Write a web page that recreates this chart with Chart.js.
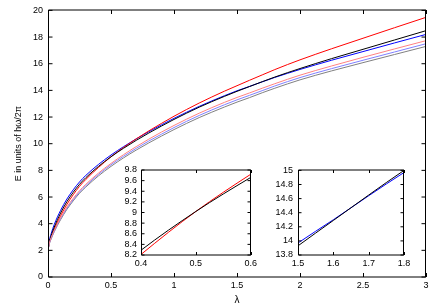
<!DOCTYPE html>
<html><head><meta charset="utf-8">
<script src="https://cdn.jsdelivr.net/npm/chart.js@4"></script>
<style>
html,body{margin:0;padding:0;background:#fff;}
#wrap{position:relative;width:436px;height:305px;background:#fff;}
canvas{position:absolute;}
</style></head><body>
<div id="wrap">
<canvas id="main" width="436" height="305" style="left:0;top:0;width:436px;height:305px"></canvas>
<canvas id="in1" width="160" height="112" style="left:100px;top:160px;width:160px;height:112px"></canvas>
<canvas id="in2" width="165" height="112" style="left:255px;top:160px;width:165px;height:112px"></canvas>
</div>
<script>
const lambda = [0, 0.01, 0.025, 0.05, 0.1, 0.15, 0.2, 0.25, 0.3, 0.4, 0.5, 0.6, 0.7, 0.8, 0.9, 1.0, 1.2, 1.4, 1.5, 1.6, 1.7, 1.8, 2.0, 2.25, 2.5, 2.75, 3.0];
const seriesBlack = [2.0, 2.6, 3.1, 3.75, 4.8, 5.65, 6.35, 6.95, 7.45, 8.29, 9.02, 9.66, 10.25, 10.8, 11.32, 11.82, 12.74, 13.55, 13.93, 14.29, 14.65, 15.0, 15.64, 16.38, 17.08, 17.78, 18.48];
const seriesRed = [2.0, 2.55, 3.0, 3.6, 4.6, 5.45, 6.17, 6.8, 7.32, 8.21, 9.02, 9.72, 10.36, 10.96, 11.52, 12.06, 13.05, 13.94, 14.35, 14.76, 15.16, 15.56, 16.29, 17.12, 17.91, 18.7, 19.48];
const seriesBlue = [2.0, 2.7, 3.25, 3.95, 5.0, 5.85, 6.54, 7.13, 7.62, 8.44, 9.15, 9.78, 10.36, 10.9, 11.41, 11.9, 12.8, 13.6, 13.97, 14.3, 14.64, 14.97, 15.57, 16.26, 16.91, 17.56, 18.2];
const seriesPink = [2.0, 2.5, 2.95, 3.5, 4.45, 5.25, 5.9, 6.47, 6.95, 7.79, 8.52, 9.18, 9.78, 10.34, 10.87, 11.37, 12.29, 13.1, 13.47, 13.81, 14.16, 14.5, 15.14, 15.83, 16.48, 17.11, 17.73];
const seriesLightBlue = [2.0, 2.48, 2.9, 3.45, 4.38, 5.15, 5.8, 6.37, 6.85, 7.69, 8.42, 9.06, 9.65, 10.2, 10.71, 11.21, 12.12, 12.92, 13.29, 13.63, 13.98, 14.33, 14.96, 15.63, 16.26, 16.88, 17.5];
const seriesGray = [2.0, 2.46, 2.85, 3.4, 4.3, 5.07, 5.71, 6.28, 6.75, 7.58, 8.3, 8.94, 9.52, 10.06, 10.57, 11.06, 11.96, 12.75, 13.12, 13.46, 13.82, 14.16, 14.79, 15.46, 16.08, 16.69, 17.3];

const mainXTicks = [0, 0.5, 1, 1.5, 2, 2.5, 3];
const mainYTicks = [0, 2, 4, 6, 8, 10, 12, 14, 16, 18, 20];
const inset1XTicks = [0.4, 0.5, 0.6];
const inset1YTicks = [8.2, 8.4, 8.6, 8.8, 9, 9.2, 9.4, 9.6, 9.8];
const inset2XTicks = [1.5, 1.6, 1.7, 1.8];
const inset2YTicks = [13.8, 14, 14.2, 14.4, 14.6, 14.8, 15];

const xTitle = 'λ';
const yTitle = 'E in units of hω/2π';

Chart.defaults.font.family = "'Liberation Sans', Arial, sans-serif";
Chart.defaults.font.size = 9;
Chart.defaults.color = '#000';

function pts(vals){ return lambda.map((l,i)=>({x:l, y:vals[i]})); }
function ds(vals, color){
  return {data: pts(vals), borderColor: color, borderWidth: 1, pointRadius: 0, fill: false, cubicInterpolationMode: 'monotone'};
}

function framePlugin(tickLen, xt, yt){
  return {
    id: 'frame',
    afterDatasetsDraw(chart){
      const {ctx, chartArea: a, scales: {x, y}} = chart;
      ctx.save();
      ctx.strokeStyle = '#000';
      ctx.lineWidth = 1;
      ctx.beginPath();
      const L = Math.round(a.left) + 0.5, R = Math.round(a.right) - 0.5;
      const T = Math.round(a.top), B = Math.round(a.bottom);
      ctx.moveTo(L, T); ctx.lineTo(R + 0.5, T);
      ctx.moveTo(L, B); ctx.lineTo(R + 0.5, B);
      ctx.moveTo(L, T); ctx.lineTo(L, B);
      ctx.moveTo(R, T); ctx.lineTo(R, B);
      xt.forEach(v => {
        const p = Math.round(x.getPixelForValue(v)) + 0.5;
        ctx.moveTo(p, B); ctx.lineTo(p, B - tickLen);
        ctx.moveTo(p, T); ctx.lineTo(p, T + tickLen);
      });
      yt.forEach(v => {
        const p = y.getPixelForValue(v);
        ctx.moveTo(L, p); ctx.lineTo(L + tickLen, p);
        ctx.moveTo(R, p); ctx.lineTo(R - tickLen, p);
      });
      ctx.stroke();
      ctx.restore();
    }
  };
}

function scaleX(min, max, ticks, height, pad, title){
  return {
    type: 'linear', min, max,
    afterBuildTicks: s => { s.ticks = ticks.map(v => ({value: v})); },
    afterFit: s => { s.height = height; },
    grid: {display: false, drawTicks: false},
    border: {display: false},
    ticks: {padding: pad, maxRotation: 0, autoSkip: false, callback: v => String(v)},
    title: title ? {display: true, text: title, font: {size: 10, lineHeight: 1.0}, padding: {top: 0, bottom: 0}} : {display: false}
  };
}
function scaleY(min, max, ticks, width, pad, title){
  return {
    type: 'linear', min, max,
    afterBuildTicks: s => { s.ticks = ticks.map(v => ({value: v})); },
    afterFit: s => { s.width = width; },
    grid: {display: false, drawTicks: false},
    border: {display: false},
    ticks: {padding: pad, autoSkip: false, callback: v => String(v)},
    title: title ? {display: true, text: title, font: {size: 9}, padding: {top: 13, bottom: 0}} : {display: false}
  };
}
const common = {
  responsive: false, animation: false, devicePixelRatio: 1,
  plugins: {legend: {display: false}, tooltip: {enabled: false}},
  elements: {point: {radius: 0}}
};

new Chart(document.getElementById('main'), {
  type: 'line',
  data: {datasets: [
    ds(seriesPink, '#ff8080'),
    ds(seriesLightBlue, '#8080ff'),
    ds(seriesGray, '#808080'),
    ds(seriesBlack, '#000000'),
    ds(seriesRed, '#ff0000'),
    ds(seriesBlue, '#0000ff')
  ]},
  options: Object.assign({}, common, {
    layout: {padding: {top: 10, right: 10, left: 0, bottom: 0}},
    scales: {
      x: scaleX(0, 3, mainXTicks, 28, 3, xTitle),
      y: scaleY(0, 20, mainYTicks, 48, 5, yTitle)
    }
  }),
  plugins: [framePlugin(4, mainXTicks, mainYTicks)]
});

new Chart(document.getElementById('in1'), {
  type: 'line',
  data: {datasets: [
    ds(seriesBlack, '#000000'),
    ds(seriesRed, '#ff0000')
  ]},
  options: Object.assign({}, common, {
    layout: {padding: {top: 10, right: 7, left: 0, bottom: 0}},
    scales: {
      x: scaleX(0.4, 0.6, inset1XTicks, 17, 3, null),
      y: scaleY(8.2, 9.8, inset1YTicks, 41, 4, null)
    }
  }),
  plugins: [framePlugin(3, inset1XTicks, inset1YTicks)]
});

new Chart(document.getElementById('in2'), {
  type: 'line',
  data: {datasets: [
    ds(seriesBlack, '#000000'),
    ds(seriesBlue, '#0000ff')
  ]},
  options: Object.assign({}, common, {
    layout: {padding: {top: 10, right: 16, left: 0, bottom: 0}},
    scales: {
      x: scaleX(1.5, 1.8, inset2XTicks, 17, 3, null),
      y: scaleY(13.8, 15, inset2YTicks, 43, 5, null)
    }
  }),
  plugins: [framePlugin(3, inset2XTicks, inset2YTicks)]
});
</script>
</body></html>
